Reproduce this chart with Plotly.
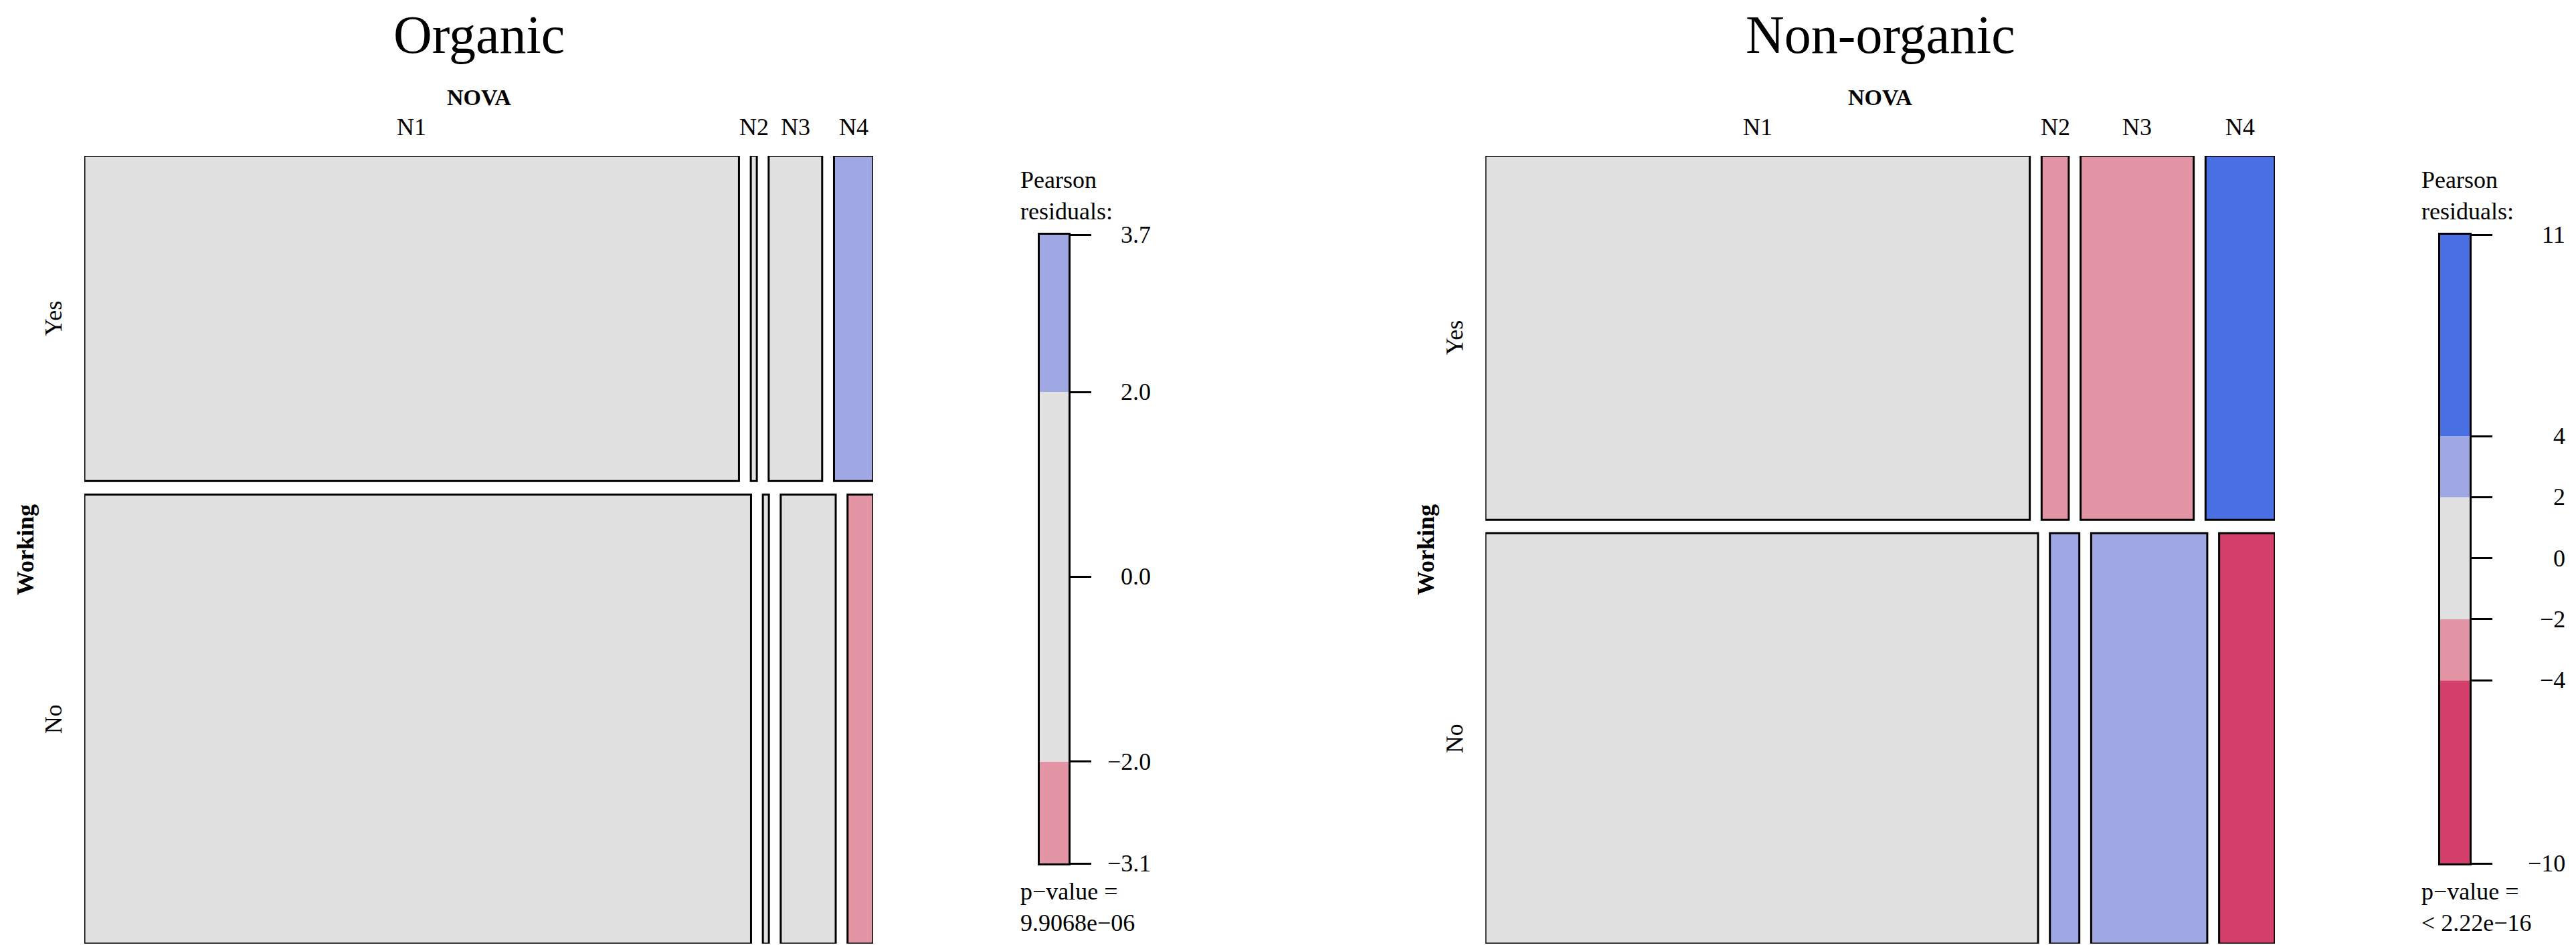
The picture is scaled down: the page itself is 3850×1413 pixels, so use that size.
import plotly.graph_objects as go

W, H = 3850, 1413

nova = ["N1", "N2", "N3", "N4"]
working = ["Yes", "No"]
titles = ["Organic", "Non-organic"]

# share of each Working row (Yes, No) in the panel
org_rows = [0.42, 0.58]
nonorg_rows = [0.47, 0.53]

# NOVA share inside each Working row
org_yes = [0.869, 0.008, 0.071, 0.052]
org_no = [0.885, 0.008, 0.073, 0.034]
nonorg_yes = [0.722, 0.036, 0.150, 0.092]
nonorg_no = [0.733, 0.039, 0.154, 0.074]

# Pearson residuals per cell
org_res_yes = [-0.6, 0.4, -0.9, 3.7]
org_res_no = [0.5, -0.3, 0.8, -3.1]
nonorg_res_yes = [-1.2, -2.6, -3.5, 10.6]
nonorg_res_no = [1.1, 2.5, 3.3, -10.0]

# residual legends
org_breaks = [-3.1, -2.0, 2.0, 3.7]
org_ticks = [3.7, 2.0, 0.0, -2.0, -3.1]
org_tick_text = ["3.7", "2.0", "0.0", "\u22122.0", "\u22123.1"]
nonorg_breaks = [-10.0, -4.0, -2.0, 2.0, 4.0, 10.6]
nonorg_ticks = [10.6, 4, 2, 0, -2, -4, -10]
nonorg_tick_text = ["11", "4", "2", "0", "\u22122", "\u22124", "\u221210"]

org_p = "p\u2212value =<br>9.9068e\u221206"
nonorg_p = "p\u2212value =<br>&lt; 2.22e\u221216"

FONT = "Liberation Serif, Times New Roman, serif"
GRAY = "#E1E1E1"
LIGHT_BLUE = "#9FA8E2"
DARK_BLUE = "#4A6FE3"
LIGHT_RED = "#E495A5"
DARK_RED = "#D33F6A"
GAP_X = 0.015
GAP_Y = 0.017


def shade(r):
    if r >= 4:
        return DARK_BLUE
    if r >= 2:
        return LIGHT_BLUE
    if r > -2:
        return GRAY
    if r > -4:
        return LIGHT_RED
    return DARK_RED


def px_x(p):
    return p / W


def px_y(p):
    return 1 - p / H


# pixel layout of each panel: mosaic left/right, legend bar left/right,
# legend label right edge, legend text left, row label x, variable label x
panels = [
    dict(rows=org_rows, cols=[org_yes, org_no], res=[org_res_yes, org_res_no],
         breaks=org_breaks, ticks=org_ticks, tick_text=org_tick_text, p=org_p,
         mosaic=(118, 1297), bar=(1546, 1589), lab_right=1714, text_left=1515,
         row_lab=72, var_lab=30),
    dict(rows=nonorg_rows, cols=[nonorg_yes, nonorg_no], res=[nonorg_res_yes, nonorg_res_no],
         breaks=nonorg_breaks, ticks=nonorg_ticks, tick_text=nonorg_tick_text, p=nonorg_p,
         mosaic=(2212, 3392), bar=(3639, 3683), lab_right=3828, text_left=3609,
         row_lab=2166, var_lab=2123),
]

MOSAIC_TOP, MOSAIC_BOTTOM = 225, 1403
LEGEND_TOP, LEGEND_BOTTOM = 343, 1283

fig = go.Figure()
annotations = []
small = dict(family=FONT, size=36, color="black")

for i, pn in enumerate(panels):
    mx = "x" if i == 0 else "x2"
    my = "y" if i == 0 else "y2"
    lx = "x3" if i == 0 else "x4"
    ly = "y3" if i == 0 else "y4"

    # mosaic tiles, rows from top (Yes) to bottom (No)
    xs, ws, bases, hs, colors = [], [], [], [], []
    row_centers = []
    top_centers = []
    y_top = 1.0
    n_rows = len(pn["rows"])
    for r in range(n_rows):
        h = pn["rows"][r] * (1 - GAP_Y * (n_rows - 1))
        y0 = y_top - h
        row_centers.append(y0 + h / 2)
        x = 0.0
        n_cols = len(pn["cols"][r])
        for c in range(n_cols):
            w = pn["cols"][r][c] * (1 - GAP_X * (n_cols - 1))
            xs.append(x + w / 2)
            ws.append(w)
            bases.append(y0)
            hs.append(h)
            colors.append(shade(pn["res"][r][c]))
            if r == 0:
                top_centers.append(x + w / 2)
            x += w + GAP_X
        y_top = y0 - GAP_Y

    fig.add_trace(go.Bar(x=xs, y=hs, base=bases, width=ws,
                         marker=dict(color=colors, line=dict(color="black", width=3)),
                         xaxis=mx, yaxis=my, hoverinfo="skip"))

    # legend bar
    br = pn["breaks"]
    fig.add_trace(go.Bar(x=[0] * (len(br) - 1),
                         y=[br[k + 1] - br[k] for k in range(len(br) - 1)],
                         base=br[:-1], width=1,
                         marker=dict(color=[shade((br[k] + br[k + 1]) / 2) for k in range(len(br) - 1)],
                                     line=dict(width=0)),
                         xaxis=lx, yaxis=ly, hoverinfo="skip"))

    # text: title, variable names, level names
    annotations.append(dict(text=titles[i], xref=mx, x=0.5, yref="paper", y=px_y(44),
                            xanchor="center", yanchor="middle",
                            font=dict(family=FONT, size=80, color="black")))
    annotations.append(dict(text="<b>NOVA</b>", xref=mx, x=0.5, yref="paper", y=px_y(138),
                            xanchor="center", yanchor="middle",
                            font=dict(family=FONT, size=34, color="black")))
    for c, lab in enumerate(nova):
        annotations.append(dict(text=lab, xref=mx, x=top_centers[c], yref="paper", y=px_y(182),
                                xanchor="center", yanchor="middle", font=small))
    annotations.append(dict(text="<b>Working</b>", xref="paper", x=px_x(pn["var_lab"]),
                            yref=my, y=0.5, xanchor="center", yanchor="middle",
                            textangle=-90, font=small))
    for r, lab in enumerate(working):
        annotations.append(dict(text=lab, xref="paper", x=px_x(pn["row_lab"]),
                                yref=my, y=row_centers[r], xanchor="center", yanchor="middle",
                                textangle=-90, font=small))

    # legend text
    annotations.append(dict(text="Pearson<br>residuals:", xref="paper", x=px_x(pn["text_left"]),
                            xanchor="left", yanchor="middle", align="left",
                            yref="paper", y=px_y(284), font=small))
    for tv, tt in zip(pn["ticks"], pn["tick_text"]):
        annotations.append(dict(text=tt, xref="paper", x=px_x(pn["lab_right"]),
                                xanchor="right", yanchor="middle",
                                yref=ly, y=tv, font=small))
    annotations.append(dict(text=pn["p"], xref="paper", x=px_x(pn["text_left"]),
                            xanchor="left", yanchor="middle", align="left",
                            yref="paper", y=px_y(1348), font=small))

    hidden = dict(visible=False, showgrid=False, zeroline=False, fixedrange=True)
    fig.update_layout({
        ("xaxis" if i == 0 else "xaxis2"): dict(hidden, domain=[px_x(pn["mosaic"][0]), px_x(pn["mosaic"][1])],
                                                range=[0, 1], anchor=my),
        ("yaxis" if i == 0 else "yaxis2"): dict(hidden, domain=[px_y(MOSAIC_BOTTOM), px_y(MOSAIC_TOP)],
                                                range=[0, 1], anchor=mx),
        ("xaxis3" if i == 0 else "xaxis4"): dict(domain=[px_x(pn["bar"][0]), px_x(pn["bar"][1])],
                                                 range=[-0.5, 0.5], anchor=ly, showticklabels=False,
                                                 showgrid=False, zeroline=False, ticks="",
                                                 showline=True, mirror=True, linecolor="black", linewidth=3),
        ("yaxis3" if i == 0 else "yaxis4"): dict(domain=[px_y(LEGEND_BOTTOM), px_y(LEGEND_TOP)],
                                                 range=[br[0], br[-1]], anchor=lx, side="right",
                                                 tickvals=pn["ticks"], showticklabels=False,
                                                 ticks="outside", ticklen=31, tickwidth=3, tickcolor="black",
                                                 showgrid=False, zeroline=False,
                                                 showline=True, mirror=True, linecolor="black", linewidth=3),
    })

for a in annotations:
    a["showarrow"] = False

fig.update_layout(width=W, height=H, margin=dict(l=0, r=0, t=0, b=0),
                  barmode="overlay", showlegend=False,
                  paper_bgcolor="white", plot_bgcolor="white",
                  annotations=annotations)

fig.write_html("out.html")
